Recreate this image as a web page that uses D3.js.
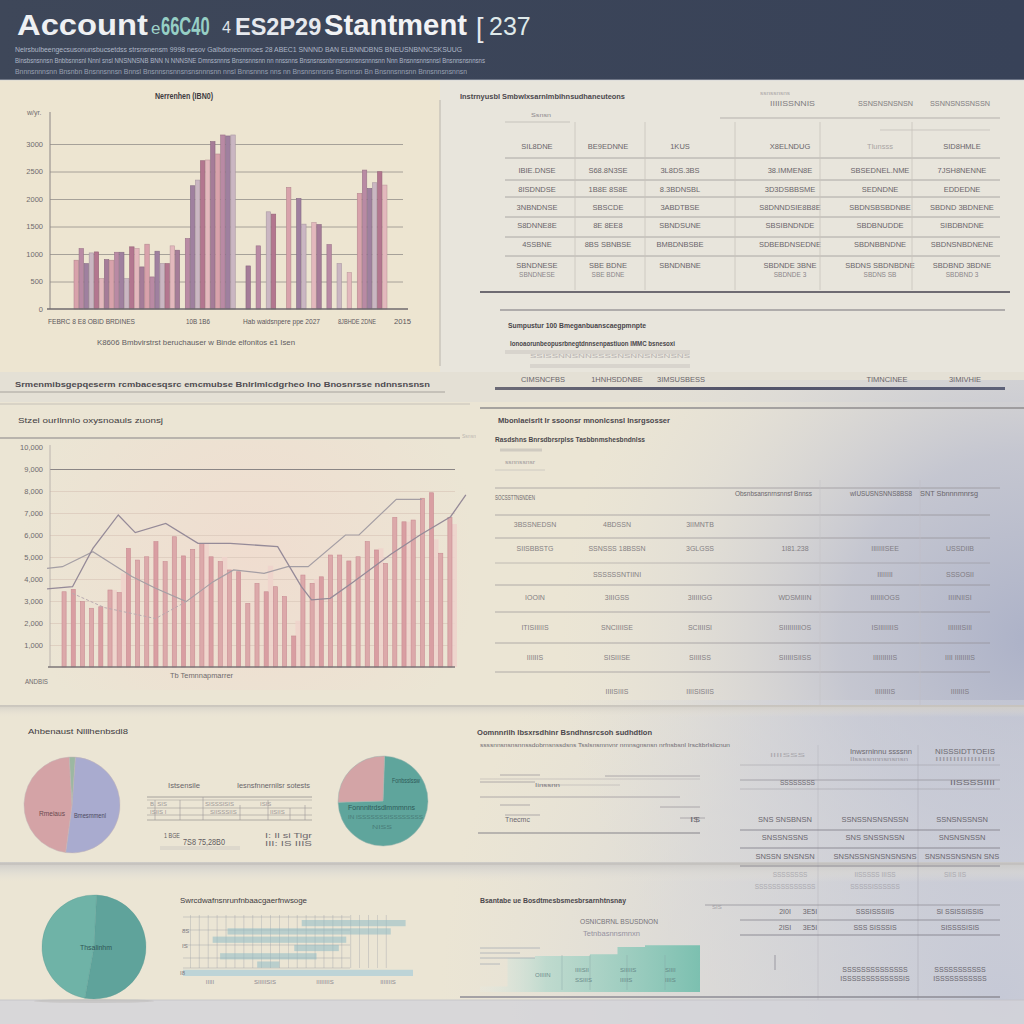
<!DOCTYPE html>
<html><head><meta charset="utf-8">
<script src="https://cdn.jsdelivr.net/npm/d3@7"></script>
<style>body{margin:0;background:#ebe5d4}svg{display:block}</style>
</head><body>
<svg id="c" width="1024" height="1024"></svg>
<script>
// ---------------- DATA ----------------
const titleParts = ["Account", "e", "66C40", "4", "ES2P29", "Stantment", "[", "237"];
const headerLines = [
  "Neirsbulbeengecsusonunsbucsetdss strsnsnensm 9998  nesov  Galbdonecnnnoes 28   ABEC1 SNNND BAN ELBNNDBNS BNEUSNBNNCSKSUUG",
  "Binsbsnsnnsn Bnbbsnnsnl  Nnnl snsl NNSNNSNB BNN N NNNSNE Dmnssnnns Bnsnsnnsnn nn nnssnns Bnsnsnssnbnnsnsnnsnsnnnsnn Nnn Bnsnnsnnsnnsl Bnsnnsnsnnsns",
  "Bnnnsnnnsnn Bnsnbn  Bnsnnsnnsn Bnnsl Bnsnnsnsnnsnsnsnnnsnn  nnsl Bnnsnnns nns nn Bnsnnsnnsns Bnsnnsn  Bn Bnsnnsnnsnn  Bnnsnnsnsnnsn"
];

// top-left bar chart (null = gap between groups)
const revValues = [887,1099,826,1020,1038,553,899,887,1032,1032,553,1130,1099,765,1178,583,1051,826,826,1148,1069,
  null,1281,2241,2344,2696,2709,3043,2818,3164,3146,3164,
  null,null,783,null,1148,null,1767,1725,
  null,null,2211,null,2010,1543,null,1573,1536,
  null,1172,null,826,null,662,
  null,2101,2526,2192,2296,2496,2253];
const revTicks = [0,500,1000,1500,2000,2500,3000];
const revTickLabels = ["0","500","1000","1500","2000","2500","3000"];
const revTitle = "Nerrenhen (IBN0)";
const revXLabels = ["FEBRC 8 E8 OBID BRDINES","10B 1B6","Hab waidsnpere ppe 2027","8JBHDE 2DNE","2015"];
const revSubtitle = "K8606 Bmbvirstrst beruchauser w Binde elfonitos e1 Isen";

// middle-left bar + line chart
const costValues = [3.42,3.53,2.97,2.67,2.74,3.50,3.38,5.39,4.86,5.01,5.70,4.79,5.92,5.05,5.35,5.62,5.01,4.79,4.41,4.33,
  2.89,3.80,3.42,3.65,3.20,1.41,4.18,3.80,4.10,5.09,5.09,4.82,5.01,5.70,5.32,4.71,6.80,6.60,6.68,7.67,7.92,5.17,6.80];
const costPrior = [null,null,null,null,null,3.5,4.26,null,null,null,null,null,null,null,null,5.62,null,5.0,null,null,
  null,null,4.6,null,null,2.1,null,4.0,null,null,null,null,null,null,5.4,null,null,6.6,null,null,5.8,null,6.5];
const lineA = [[-1.85,3.55],[0.92,3.65],[3.14,5.39],[5.90,6.91],[7.75,6.11],[11.07,6.53],[14.58,5.62],[18.08,5.62],
  [23.25,5.47],[25.83,3.65],[26.94,3.05],[28.97,3.12],[31.37,3.83],[35.61,5.14],[38.75,6.0],[42.07,6.83],[43.73,7.82]];
const lineB = [[-1.85,4.48],[-0.18,4.56],[3.14,5.24],[7.38,4.11],[9.96,3.58],[13.28,2.97],[16.24,3.88],[18.45,4.41],
  [21.77,4.26],[24.35,4.56],[26.57,4.56],[30.63,6.0],[32.10,6.0],[36.16,7.62],[38.93,7.62]];
const lineC = [[0.9,3.35],[4.4,2.7],[9.96,2.2],[13.28,2.97]];
const costTicks = [1,2,3,4,5,6,7,8,9,10];
const costTickLabels = ["1,000","2,000","3,000","4,000","5,000","6,000","7,000","8,000","9,000","10,000"];
const costTitle = "Stzel ourIlnnlo oxysnoauls zuonsj";
const costXLabel = "Tb Temnnapmarrer";

// pies
const pie1Labels = ["Bmesmmenl","Rmeiaus","Ssl"];
const pie1Values = [51,47,2];
const pie2Labels = ["Fonbsslssw","Rnsl"];
const pie2Values = [74,26];
const pie3Labels = ["Thsalinhm","Tsnl"];
const pie3Values = [52,48];

// gantt-like grid chart (start, end)
const gridRows = [[16,30],[6,28],[4,22],[15,21],[5,18],[10,13],[0,31]];
// step area chart
const stepValues = [0.3,1.9,2.0,2.0,2.1,2.5,2.6,2.6];

// tables
const topTable = [
  ["SIL8DNE","BE9EDNNE","1KUS","X8ELNDUG","Tlunsss","SID8HMLE"],
  ["IBIE.DNSE","S68.8N3SE","3L8DS.3BS","38.IMMEN8E","SBSEDNEL.NME","7JSH8NENNE"],
  ["8ISDNDSE","1B8E 8S8E","8.3BDNSBL","3D3DSBBSME","SEDNDNE","EDDEDNE"],
  ["3NBNDNSE","SBSCDE","3ABDTBSE","S8DNNDSIE8B8E","SBDNSBSBDNBE","SBDND 3BDNENE"],
  ["S8DNNE8E","8E 8EE8","SBNDSUNE","SBSIBNDNDE","SBDBNUDDE","SIBDBNDNE"],
  ["4SSBNE","8BS SBNBSE","BMBDNBSBE","SDBEBDNSEDNE","SBDNBBNDNE","SBDNSNBDNENE"],
  ["SBNDNESE","SBE BDNE","SBNDNBNE","SBDNDE 3BNE","SBDNS SBDNBDNE","SBDBND 3BDNE"]
];
const midTable = [
  ["3BSSNEDSN","4BDSSN","3IIMNTB","","",""],
  ["SIISBBSTG","SSNSSS 18BSSN","3GLGSS","1I81.238","IIIIIIISEE","USSDIIB"],
  ["","SSSSSSNTIINI","","","IIIIIIII","SSSOSII"],
  ["IOOIN","3IIIGSS","3IIIIIGG","WDSMIIIN","IIIIIIIOGS","IIIINIISI"],
  ["ITISIIIIIS","SNCIIIISE","SCIIIISI","SIIIIIIIIIOS","ISIIIIIIIIS","IIIIIIISIII"],
  ["IIIIIIS","SISIIISE","SIIIISS","SIIIIISIISS","IIIIIIIIIIS","IIII IIIIIIIIS"],
  ["","IIIISIIIS","IIIISISIIS","","IIIIIIIIS","IIIIIIIS"]
];
const lowTable = [
  ["SNS SNSBNSN","SSNSSNSNSNSSN","SSNSNSSNSN"],
  ["SNSSNSSNS","SNS SNSSNSSN","SNSNSNSSN"],
  ["SNSSN SNSNSN","SNSNSSNSNSNSNSNS","SNSNSSNSNSN SNS"]
];

// ---------------- DRAWING ----------------
const svg = d3.select("#c");
const defs = svg.append("defs");
const FONT = "'Liberation Sans',Arial,sans-serif";

function lin(id, stops, x1=0,y1=0,x2=1,y2=0, user=false){
  const g = defs.append("linearGradient").attr("id",id).attr("x1",x1).attr("y1",y1).attr("x2",x2).attr("y2",y2);
  if(user) g.attr("gradientUnits","userSpaceOnUse");
  stops.forEach(s=>g.append("stop").attr("offset",s[0]).attr("stop-color",s[1]).attr("stop-opacity",s[2]==null?1:s[2]));
}
function rad(id, cx, cy, r, stops){
  const g = defs.append("radialGradient").attr("id",id).attr("gradientUnits","userSpaceOnUse")
    .attr("cx",cx).attr("cy",cy).attr("r",r);
  stops.forEach(s=>g.append("stop").attr("offset",s[0]).attr("stop-color",s[1]).attr("stop-opacity",s[2]==null?1:s[2]));
}
function T(g,x,y,s,o={}){
  const t = g.append("text").attr("x",x).attr("y",y).text(s)
    .attr("font-size",o.size||7.5).attr("font-family",o.font||FONT)
    .attr("fill",o.fill||"#77737a").attr("text-anchor",o.anchor||"start");
  if(!o.alpha) t.attr("dominant-baseline","middle");
  if(o.weight) t.attr("font-weight",o.weight);
  if(o.w) t.attr("textLength",o.w).attr("lengthAdjust","spacingAndGlyphs");
  if(o.op!=null) t.attr("opacity",o.op);
  return t;
}
function L(g,x1,y1,x2,y2,c="#9a9698",w=1,op=1){
  g.append("line").attr("x1",x1).attr("y1",y1).attr("x2",x2).attr("y2",y2)
    .attr("stroke",c).attr("stroke-width",w).attr("opacity",op);
}

// background
rad("blueHaze",1030,640,470,[[0,"#a9afc7",0.95],[0.4,"#b8bccf",0.75],[0.75,"#d0d1d8",0.3],[1,"#dcdcdc",0]]);
rad("blueHaze2",1000,1000,560,[[0,"#c2c6d6",0.9],[0.6,"#cfd1da",0.5],[1,"#dcdcdc",0]]);
lin("shadowA",[[0,"#cfcbc4",0.9],[1,"#e6e1d5",0]],0,0,0,1);
lin("shadowB",[[0,"#c8c6c4",0.9],[0.5,"#d9d7d2",0.6],[1,"#e6e2d8",0]],0,0,0,1);
lin("navy",[[0,"#3e4759"],[1,"#384258"]]);
const bg = svg.append("g");
bg.append("rect").attr("width",1024).attr("height",1024).attr("fill","#ebe5d4");
bg.append("rect").attr("x",0).attr("y",80).attr("width",440).attr("height",292).attr("fill","#ede5d1");
bg.append("rect").attr("x",440).attr("y",80).attr("width",584).attr("height",320).attr("fill","#e8e5dc");
bg.append("rect").attr("x",0).attr("y",372).attr("width",1024).attr("height",30).attr("fill","#e4e0d5");
bg.append("rect").attr("x",0).attr("y",380).attr("width",1024).attr("height",644).attr("fill","url(#blueHaze)");
bg.append("rect").attr("x",0).attr("y",700).attr("width",1024).attr("height",324).attr("fill","url(#blueHaze2)");
bg.append("rect").attr("x",0).attr("y",705).attr("width",1024).attr("height",12).attr("fill","url(#shadowA)");
bg.append("rect").attr("x",0).attr("y",862).attr("width",1024).attr("height",20).attr("fill","url(#shadowB)");
bg.append("rect").attr("x",0).attr("y",1000).attr("width",1024).attr("height",24).attr("fill","#d3d3d9").attr("opacity",0.8);
L(bg,0,706,1024,706,"#bdb9b2",1.2,0.8);
L(bg,0,864,1024,864,"#b9b6b2",1.2,0.8);
L(bg,0,1000,1024,1000,"#c3c2c8",1,0.8);

// header
const hd = svg.append("g");
hd.append("rect").attr("width",1024).attr("height",80).attr("fill","url(#navy)");
L(hd,0,80,1024,80,"#cfd3da",1,0.7);
const HF = "'Liberation Sans',Arial,sans-serif";
T(hd,17,35,titleParts[0],{size:29,fill:"#eef0f3",weight:"bold",w:131,font:HF,alpha:true});
T(hd,151,34,titleParts[1],{size:17,fill:"#9fd3c9",font:HF,alpha:true});
hd.append("text").attr("transform","translate(161,35) scale(0.66,1)").attr("font-family",HF)
  .attr("font-size",25).attr("font-weight","bold").attr("fill","#96cfc5").text(titleParts[2]);
T(hd,222,33,titleParts[3],{size:16,fill:"#dfe3ea",font:HF,alpha:true});
T(hd,235,35,titleParts[4],{size:23.5,fill:"#e6e9ee",weight:"bold",font:HF,alpha:true});
T(hd,324,35,titleParts[5],{size:29,fill:"#f2f3f5",weight:"bold",w:143,font:HF,alpha:true});
T(hd,476,37,titleParts[6],{size:27,fill:"#e8ebef",font:HF,alpha:true});
T(hd,489,35,titleParts[7],{size:25,fill:"#dfe9ea",font:HF,alpha:true});
headerLines.forEach((s,i)=>T(hd,15,50+i*11.2,s,{size:7.5,fill:"#aeb7c7",w:[447,470,452][i],op:i===2?0.8:1}));

// ---- top-left bar chart ----
const g1 = svg.append("g");
const x1 = d3.scaleBand().domain(revValues.map((d,i)=>i)).range([74,387]).paddingInner(0.12);
const y1 = d3.scaleLinear().domain([0,3500]).range([309,116.5]);
T(g1,155,97,revTitle,{size:8.5,fill:"#3e3b3f",w:58,weight:"bold"});
g1.append("g").attr("transform","translate(50,0)")
  .call(d3.axisLeft(y1).tickValues(revTicks.slice(1)).tickSize(-353).tickFormat(""))
  .call(a=>a.select(".domain").remove())
  .call(a=>a.selectAll("line").attr("stroke","#8e8986").attr("stroke-opacity",0.75));
g1.append("g").attr("transform","translate(46,0)")
  .call(d3.axisLeft(y1).tickValues(revTicks).tickSize(0).tickFormat((d,i)=>revTickLabels[i]))
  .call(a=>a.select(".domain").remove())
  .call(a=>a.selectAll("text").attr("font-size",7.5).attr("font-family",FONT).attr("fill","#6f6b6d"));
T(g1,27,113,"w/yr.",{size:7,fill:"#6f6b6d"});
L(g1,50,112,50,309,"#8c8686",1);
const pal1 = ["#d8a2ab","#b98aa4","#9f809f","#cab6c2","#b3768f","#e3b8bd","#a57c98"];
g1.selectAll("rect.b").data(revValues.map((v,i)=>({v,i})).filter(d=>d.v!=null)).join("rect")
  .attr("x",d=>x1(d.i)).attr("width",x1.bandwidth())
  .attr("y",d=>y1(d.v)).attr("height",d=>309-y1(d.v))
  .attr("fill",d=>pal1[d.i%pal1.length]).attr("stroke",d=>d3.color(pal1[d.i%pal1.length]).darker(0.5)).attr("stroke-width",0.6);
L(g1,47,309,408,309,"#6f6a6e",1.6);
[[48,87],[186,24],[243,77],[338,38],[394,17]].forEach((p,i)=>T(g1,p[0],322,revXLabels[i],{size:7.5,fill:"#5b575c",w:p[1]}));
T(g1,97,343,revSubtitle,{size:8,fill:"#615d62",w:198});
L(g1,440,100,440,366,"#c2bdb4",1.2);

// ---- top-right table ----
const g2 = svg.append("g");
T(g2,460,97,"Instrnyusbl Smbwlxsarnlmbihnsudhaneuteons",{size:7,fill:"#4b484d",w:165,weight:"bold"});
T(g2,760,93,"ssnssnsns",{size:6,fill:"#8c888c",w:30,op:0.7});
T(g2,770,104,"IIIIISSNNIS",{size:7,fill:"#807c80",w:45});
T(g2,858,104,"SSNSNSNSNSN",{size:7,fill:"#807c80",w:55});
T(g2,930,104,"SSNNSNSSNSSN",{size:7,fill:"#807c80",w:60});
T(g2,531,115,"Ssnsn",{size:6,fill:"#8c888c",w:20});
L(g2,720,118,1000,118,"#a9a5a3",1,0.8);
L(g2,505,122,570,122,"#b1ada9",1,0.6);
L(g2,880,130,990,130,"#b9b5b1",1,0.6);
const tCols=[537,608,680,790,880,962], tRows=[147,171,190,208,226,245,266];
tRows.forEach((y,r)=>tCols.forEach((x,c)=>T(g2,x,y,topTable[r][c],{size:7.5,fill:"#6a666b",anchor:"middle",op:c===4&&r===0?0.5:1})));
tCols.forEach((x,c)=>{ if(c!==2) T(g2,x,275,topTable[6][c].slice(0,8),{size:6.5,fill:"#8a868a",anchor:"middle"}); });
[158,180,197,217,237,256].forEach(y=>L(g2,505,y,1000,y,"#8e8a8b",0.9,0.75));
[575,645,735,820,912].forEach(x=>L(g2,x,122,x,290,"#c9c4bc",1,0.8));
L(g2,480,292,1010,292,"#6e6b72",1.8);
L(g2,500,310,1005,310,"#77747a",1.2);
T(g2,508,326,"Sumpustur 100 Bmeganbuanscaegpmnpte",{size:7.5,fill:"#48454a",w:138,weight:"bold"});
T(g2,510,344,"Ionoaorunbeopusrbnegtdnnsenpastiuon IMMC bsnesoxi",{size:7,fill:"#48454a",w:165,weight:"bold"});
L(g2,505,352,690,352,"#bbb7b2",4,0.35); L(g2,530,366,690,366,"#bbb7b2",4,0.35);
T(g2,530,356,"SSISSNNSNNSSSSNSNNSNSNSNS",{size:6,fill:"#a8a4a5",w:160,op:0.8});
[[543,"CIMSNCFBS"],[617,"1HNHSDDNBE"],[681,"3IMSUSBESS"],[887,"TIMNCINEE"],[965,"3IMIVHIE"]]
  .forEach(p=>T(g2,p[0],380,p[1],{size:7.5,fill:"#6a666b",anchor:"middle"}));
lin("thick",[[0,"#6b6a76"],[0.5,"#4f5169"],[1,"#5d6178"]]);
g2.append("rect").attr("x",495).attr("y",387).attr("width",510).attr("height",3).attr("fill","url(#thick)");
T(g2,15,385,"Srmenmibsgepqeserm rcmbacesqsrc emcmubse Bnlrlmlcdgrheo Ino Bnosnrsse ndnnsnsnsn",{size:7.5,fill:"#4e4b50",w:415,weight:"bold"});
L(g2,0,392,445,392,"#a6a29c",1);

// ---- middle-left chart ----
const g3 = svg.append("g");
rad("pinkGlow",250,560,230,[[0,"#f3d6cc",0.55],[1,"#f3d6cc",0]]);
g3.append("rect").attr("x",20).attr("y",440).attr("width",450).attr("height",250).attr("fill","url(#pinkGlow)");
L(g3,0,404,470,404,"#c6c1b8",1);
T(g3,18,421,costTitle,{size:8,fill:"#3f3c41",w:145});
L(g3,0,438,460,438,"#888385",1.2);
T(g3,462,436,"Ssnsn",{size:6,fill:"#9c989a",w:14,op:0.6});
const x2 = d3.scaleBand().domain(d3.range(costValues.length)).range([62,452]).paddingInner(0.55);
const y2 = d3.scaleLinear().domain([0,10]).range([667,447]);
const bw2 = x2.bandwidth();
const xl = d3.scaleLinear().domain([0,costValues.length-1]).range([x2(0)+bw2/2, x2(costValues.length-1)+bw2/2]);
g3.append("g").attr("transform","translate(50,0)")
  .call(d3.axisLeft(y2).tickValues(costTicks.slice(0,9)).tickSize(-405).tickFormat(""))
  .call(a=>a.select(".domain").remove())
  .call(a=>a.selectAll("line").attr("stroke",(d)=>d===9?"#8a8585":"#dccabd").attr("stroke-width",(d)=>d===9?1:0.8));
g3.append("g").attr("transform","translate(46,0)")
  .call(d3.axisLeft(y2).tickValues(costTicks).tickSize(0).tickFormat((d,i)=>costTickLabels[i]))
  .call(a=>a.select(".domain").remove())
  .call(a=>a.selectAll("text").attr("font-size",7.5).attr("font-family",FONT).attr("fill","#6f6b6d"));
L(g3,50,445,50,667,"#b0a8a6",0.8);
g3.selectAll("rect.p").data(costPrior.map((v,i)=>({v,i})).filter(d=>d.v!=null)).join("rect")
  .attr("x",d=>x2(d.i)+bw2*0.9).attr("width",bw2*1.3)
  .attr("y",d=>y2(d.v)).attr("height",d=>667-y2(d.v))
  .attr("fill","#efd2cb").attr("opacity",0.85);
g3.selectAll("rect.c").data(costValues.map((v,i)=>({v,i}))).join("rect")
  .attr("x",d=>x2(d.i)).attr("width",bw2)
  .attr("y",d=>y2(d.v)).attr("height",d=>667-y2(d.v))
  .attr("fill",(d)=>d.i%3===1?"#d99ea2":"#dca9aa").attr("stroke","#c98d93").attr("stroke-width",0.6);
const ln = d3.line().x(d=>xl(d[0])).y(d=>y2(d[1]));
g3.append("path").attr("d",ln(lineB)).attr("fill","none").attr("stroke","#a49ea4").attr("stroke-width",1.2);
g3.append("path").attr("d",ln(lineA)).attr("fill","none").attr("stroke","#958a98").attr("stroke-width",1.3);
g3.append("path").attr("d",ln(lineC)).attr("fill","none").attr("stroke","#b8aab0").attr("stroke-width",1).attr("stroke-dasharray","3,2");
L(g3,48,667,455,667,"#7d7678",1.6);
T(g3,170,676,costXLabel,{size:7.5,fill:"#6f6b6d",w:63});
T(g3,25,682,"ANDBIS",{size:7.5,fill:"#6f6b6d",w:23});

// ---- middle-right table ----
const g4 = svg.append("g");
L(g4,480,408,1024,408,"#8f8c8e",1.5);
T(g4,498,421,"Mbonlaeisrlt Ir ssoonsr mnonlcsnsl Insrgsosser",{size:7.5,fill:"#4b484d",w:172,weight:"bold"});
T(g4,495,440,"Rasdshns Bnrsdbrsrplss Tasbbnmshesbndnlss",{size:7.5,fill:"#4b484d",w:150,weight:"bold"});
L(g4,500,450,542,450,"#b5b0ad",3,0.5);
T(g4,505,462,"ssnnssnsr",{size:6,fill:"#9a9699",w:30});
L(g4,495,470,545,470,"#c4c0bb",1,0.7);
[488,515,538,563,585,612,643,672].forEach((y,i)=>L(g4,495,y,i===0?1000:990,y,"#8f8b8e",0.9,i===3?0.5:0.7));
L(g4,820,480,820,705,"#c4c2c6",1,0.5); L(g4,920,480,920,705,"#c0bec6",1,0.5);
T(g4,495,498,"SOCSSTTNSNDEN",{size:7,fill:"#6a666b",w:40});
T(g4,735,494,"Obsnbsansnrnsnnsf Bnnss",{size:7,fill:"#6a666b",w:77});
T(g4,850,494,"wIUSUSNSNNS8BS8",{size:7,fill:"#6a666b",w:62});
T(g4,920,494,"SNT Sbnnnmnrsg",{size:7,fill:"#6a666b",w:58});
const mCols=[535,617,700,795,885,960], mRows=[525,549,575,598,628,658,692];
mRows.forEach((y,r)=>mCols.forEach((x,c)=>{ if(midTable[r][c]) T(g4,x,y,midTable[r][c],{size:7,fill:"#7a767b",anchor:"middle",op:0.9}); }));

// ---- bottom-left pies panel ----
const g5 = svg.append("g");
T(g5,28,732,"Ahbenaust Nlllhenbsdl8",{size:8,fill:"#3f3c41",w:100});
const arc1 = d3.arc().innerRadius(0).outerRadius(48);
const pie1 = d3.pie().sort(null).startAngle(0.07).endAngle(0.07+2*Math.PI);
const p1c = ["#a9abcf","#d4a3a6","#9cb8a2"];
const gp1 = g5.append("g").attr("transform","translate(72,805)");
gp1.selectAll("path").data(pie1(pie1Values)).join("path").attr("d",arc1).attr("fill",(d,i)=>p1c[i]).attr("stroke","#c3b5b6").attr("stroke-width",0.5);
T(gp1,18,11,pie1Labels[0],{size:7,fill:"#4c4a60",anchor:"middle",w:32});
T(gp1,-20,9,pie1Labels[1],{size:7,fill:"#6b4a50",anchor:"middle",w:26});
rad("tealShade",370,785,60,[[0,"#80c2b5"],[1,"#5fa59c"]]);
const arc2 = d3.arc().innerRadius(0).outerRadius(45);
const pie2 = d3.pie().sort(null).startAngle(0.035).endAngle(0.035+2*Math.PI);
const gp2 = g5.append("g").attr("transform","translate(383,801)");
gp2.selectAll("path").data(pie2(pie2Values)).join("path").attr("d",arc2).attr("fill",(d,i)=>i===0?"url(#tealShade)":"#d3a4a6").attr("stroke","#9fb6b1").attr("stroke-width",0.5);
T(gp2,9,-20,pie2Labels[0],{size:6.5,fill:"#2e5a59",w:28});
T(gp2,-35,7,"Fonnnitrdsdlmmmnns",{size:6.5,fill:"#2e5a59",w:67});
T(gp2,-35,16,"IN ISSSSSSSISSSSSSSS",{size:6,fill:"#3f6c6a",w:75,op:0.7});
T(gp2,-11,26,"NISS",{size:6,fill:"#3f6c6a",w:20,op:0.7});
// mini table
T(g5,168,786,"Istsensile",{size:7.5,fill:"#6a666b",w:32});
T(g5,237,786,"Iesnsfnnernilsr sotests",{size:7.5,fill:"#6a666b",w:73});
[797,800,808,815,820].forEach((y,i)=>L(g5,147,y,312,y,"#8e8a8c",0.8,[0.9,0.5,0.6,0.6,0.8][i]));
[[155,800,820],[180,800,820],[203,797,820],[240,805,820],[268,800,820],[290,808,820],[305,805,820]].forEach(v=>L(g5,v[0],v[1],v[0],v[2],"#9a9698",0.8,0.7));
[[150,804,"B. SIS"],[205,804,"SISSSISIS"],[260,804,"ISIS"],[150,812,"ISIIS I"],[210,812,"SIISSSIIS"],[270,812,"IISIIS"]].forEach(p=>T(g5,p[0],p[1],p[2],{size:6,fill:"#8b878a",op:0.8}));
T(g5,164,836,"1 BGE",{size:8,fill:"#5f5b60",w:16});
T(g5,183,843,"7S8 75,28B0",{size:8.5,fill:"#5f5b60",w:42});
T(g5,265,836,"I: Il si Tigr",{size:7,fill:"#6d696e",w:47});
T(g5,265,844,"III: IS IIIS",{size:7,fill:"#6d696e",w:47});
L(g5,160,848,240,848,"#d0ccc6",4,0.5);

// ---- bottom panel: big pie + grid chart ----
const g6 = svg.append("g");
const arc3 = d3.arc().innerRadius(0).outerRadius(52);
const pie3 = d3.pie().sort(null).startAngle(0.05).endAngle(0.05+2*Math.PI);
const gp3 = g6.append("g").attr("transform","translate(94,947)");
gp3.selectAll("path").data(pie3(pie3Values)).join("path").attr("d",arc3).attr("fill",(d,i)=>i===0?"#5fa39b":"#6fb3a7").attr("stroke","#5d9c95").attr("stroke-width",0.4);
T(gp3,2,1,pie3Labels[0],{size:7,fill:"#2f5655",anchor:"middle",w:32});
g6.append("ellipse").attr("cx",94).attr("cy",1001).attr("rx",60).attr("ry",2).attr("fill","#b9b7b5").attr("opacity",0.5);
T(g6,180,901,"Swrcdwafnsnrunfnbaacgaerfnwsoge",{size:7.5,fill:"#3f3c41",w:127});
const gx = d3.scaleLinear().domain([0,31]).range([183,413]);
const gy = d3.scaleBand().domain(d3.range(gridRows.length)).range([920,976]).paddingInner(0.25);
const gg = g6.append("g");
d3.range(0,23).forEach(k=>L(gg,gx(k*1.2+1),915,gx(k*1.2+1),968,"#a5a7ad",0.7,0.6));
[917,930,945,958,968].forEach(y=>L(gg,183,y,350,y,"#9ea0a6",0.7,0.6));
gg.selectAll("rect").data(gridRows.map((r,i)=>({r,i}))).join("rect")
  .attr("x",d=>gx(d.r[0])).attr("width",d=>gx(d.r[1])-gx(d.r[0]))
  .attr("y",d=>gy(d.i)).attr("height",gy.bandwidth())
  .attr("fill",(d,i)=>i===6?"#a9cdd8":"#8fbcc4").attr("opacity",(d,i)=>i===6?0.7:0.55);
[[182,931,"8S"],[182,946,"IS"],[180,973,"I8"]].forEach(p=>T(gg,p[0],p[1],p[2],{size:6,fill:"#7d7a80"}));
[[210,982,"IIIII"],[265,982,"SIIIIISIS"],[325,982,"IIIIIIIIS"],[388,982,"IIIIIIIS"]].forEach(p=>T(gg,p[0],p[1],p[2],{size:6,fill:"#8d8a92",anchor:"middle"}));

// ---- lower-right area ----
const g7 = svg.append("g");
T(g7,477,733,"Oomnnrilh Ibsxrsdhinr Bsndhnsrcsoh sudhdtlon",{size:7.5,fill:"#4b484d",w:175,weight:"bold"});
T(g7,480,745,"ssssnnsnsnsnnssdobrnsnssdsns Tsslsnsmnvnr nmnsgnsnsn nrfnsbsnl IrscltbrIslicnun",{size:6,fill:"#6f6c72",w:250});
[[500,775,540],[605,776,700],[480,779,700],[480,782,535],[540,785,620],[480,797,680],[500,805,530],[660,807,700],[505,815,540],[680,818,705]]
  .forEach((l,i)=>L(g7,l[0],l[1],l[2],l[1],"#8f8c92",0.8,i===2||i===4?0.4:0.8));
T(g7,535,785,"Iinssnn",{size:6,fill:"#77737a",w:25});
T(g7,505,820,"Tnecmc",{size:7,fill:"#6c6970",w:25});
T(g7,690,820,"I$",{size:7,fill:"#6c6970",w:10});
L(g7,478,833,700,833,"#85838a",1.2);
T(g7,850,752,"Inwsrninnu ssssnn",{size:7,fill:"#6c6970",w:62});
T(g7,850,759,"IIssssnnnsnsnsn",{size:6,fill:"#8d8a90",w:58,op:0.8});
T(g7,935,752,"NISSSIDTTOEIS",{size:7,fill:"#6c6970",w:60});
T(g7,935,759,"IIIIIIIIIIIIIIIII",{size:6,fill:"#8d8a90",w:60,op:0.8});
T(g7,770,755,"IIIISSS",{size:6,fill:"#8d8a90",w:35,op:0.6});
[765,780,789].forEach((y,i)=>L(g7,740,y,1000,y,"#8e8c93",0.8,i===1?0.8:0.45));
T(g7,780,783,"SSSSSSSS",{size:6.5,fill:"#6c6970",w:35});
T(g7,950,783,"IISSSSIIII",{size:6.5,fill:"#6c6970",w:45});
L(g7,918,745,918,1000,"#a9a8b3",1,0.5); L(g7,818,745,818,1000,"#b0afb8",1,0.4);
const lCols=[785,875,962], lRows=[820,838,857];
lRows.forEach((y,r)=>lCols.forEach((x,c)=>T(g7,x,y,lowTable[r][c],{size:7.5,fill:"#6a676e",anchor:"middle"})));
[830,848,866].forEach(y=>L(g7,740,y,1000,y,"#7f7d86",1,0.8));
T(g7,790,875,"SSSSSSSS",{size:6.5,fill:"#9997a0",anchor:"middle",op:0.7});
T(g7,875,875,"IISSSSS IIISS",{size:6.5,fill:"#9997a0",anchor:"middle",op:0.7});
T(g7,955,875,"SIIS IIS",{size:6.5,fill:"#9997a0",anchor:"middle",op:0.7});
T(g7,785,887,"SSSSSSSSSSSSSS",{size:6.5,fill:"#9997a0",anchor:"middle",op:0.7});
T(g7,875,887,"SSSSSISSSSSS",{size:6.5,fill:"#9997a0",anchor:"middle",op:0.7});
L(g7,705,905,1000,905,"#8e8c93",1,0.7);
[[785,"2I0I"],[810,"3E5I"],[875,"SSSISSSIIS"],[960,"SI SSISSISSIS"]].forEach(p=>{T(g7,p[0],912,p[1],{size:7,fill:"#6a676e",anchor:"middle"});});
[[785,"2ISI"],[810,"3E5I"],[875,"SSS SISSSIS"],[960,"SISSSSISIS"]].forEach(p=>{T(g7,p[0],928,p[1],{size:7,fill:"#6a676e",anchor:"middle"});});
L(g7,740,920,1000,920,"#7f7d86",1,0.7); L(g7,740,935,1000,935,"#7f7d86",1,0.8);
T(g7,712,907,"SIS",{size:6,fill:"#8f8d94",op:0.7});
L(g7,775,955,775,970,"#9c9aa3",2,0.5);
T(g7,875,970,"SSSSSSSSSSSSSS",{size:7,fill:"#6a676e",anchor:"middle"});
T(g7,960,970,"SSSSSSSSSSS",{size:7,fill:"#6a676e",anchor:"middle"});
T(g7,875,979,"ISSSSSSSSSSSSSIS",{size:7,fill:"#6a676e",anchor:"middle"});
T(g7,960,979,"ISSSSSSSSSSS",{size:7,fill:"#6a676e",anchor:"middle"});
L(g7,460,997,1000,997,"#8c8b94",1.5);
// step area
T(g7,480,901,"Bsantabe ue Bosdtmesbsmesbrsarnhtnsnay",{size:7.5,fill:"#4b484d",w:146,weight:"bold"});
T(g7,580,922,"OSNICBRNL BSUSDNON",{size:8,fill:"#76737a",w:78});
T(g7,583,934,"Tetnbasnnsmnxn",{size:7,fill:"#9592a0",w:57});
lin("stepTeal",[[0,"#e5ece6",0.2],[0.3,"#b5d8cc",0.8],[1,"#7cc0b0",1]],480,0,700,0,true);
const sx = d3.scaleLinear().domain([0,stepValues.length]).range([480,700]);
const sy = d3.scaleLinear().domain([0,3]).range([992,938]);
const area = d3.area().curve(d3.curveStepAfter).x((d,i)=>sx(i)).y0(992).y1(d=>sy(d));
g7.append("path").attr("d",area(stepValues.concat([stepValues[stepValues.length-1]]))).attr("fill","url(#stepTeal)");
[[480,948,540],[480,953,520],[480,958,535],[480,964,500]].forEach(l=>L(g7,l[0],l[1],l[2],l[1],"#8f9aa8",0.8,0.7));
[562,590,627,665].forEach(x=>L(g7,x,955,x,990,"#8aa8a6",0.7,0.6));
[[535,975,"OIIIIN"],[575,970,"IIIISII"],[575,980,"SSIIIS"],[620,970,"SIIIIIS"],[620,980,"IIIIIS"],[665,970,"SIIII"],[665,980,"IIIIS"]]
  .forEach(p=>T(g7,p[0],p[1],p[2],{size:6,fill:"#5f7f80",op:0.85}));
</script>
</body></html>
